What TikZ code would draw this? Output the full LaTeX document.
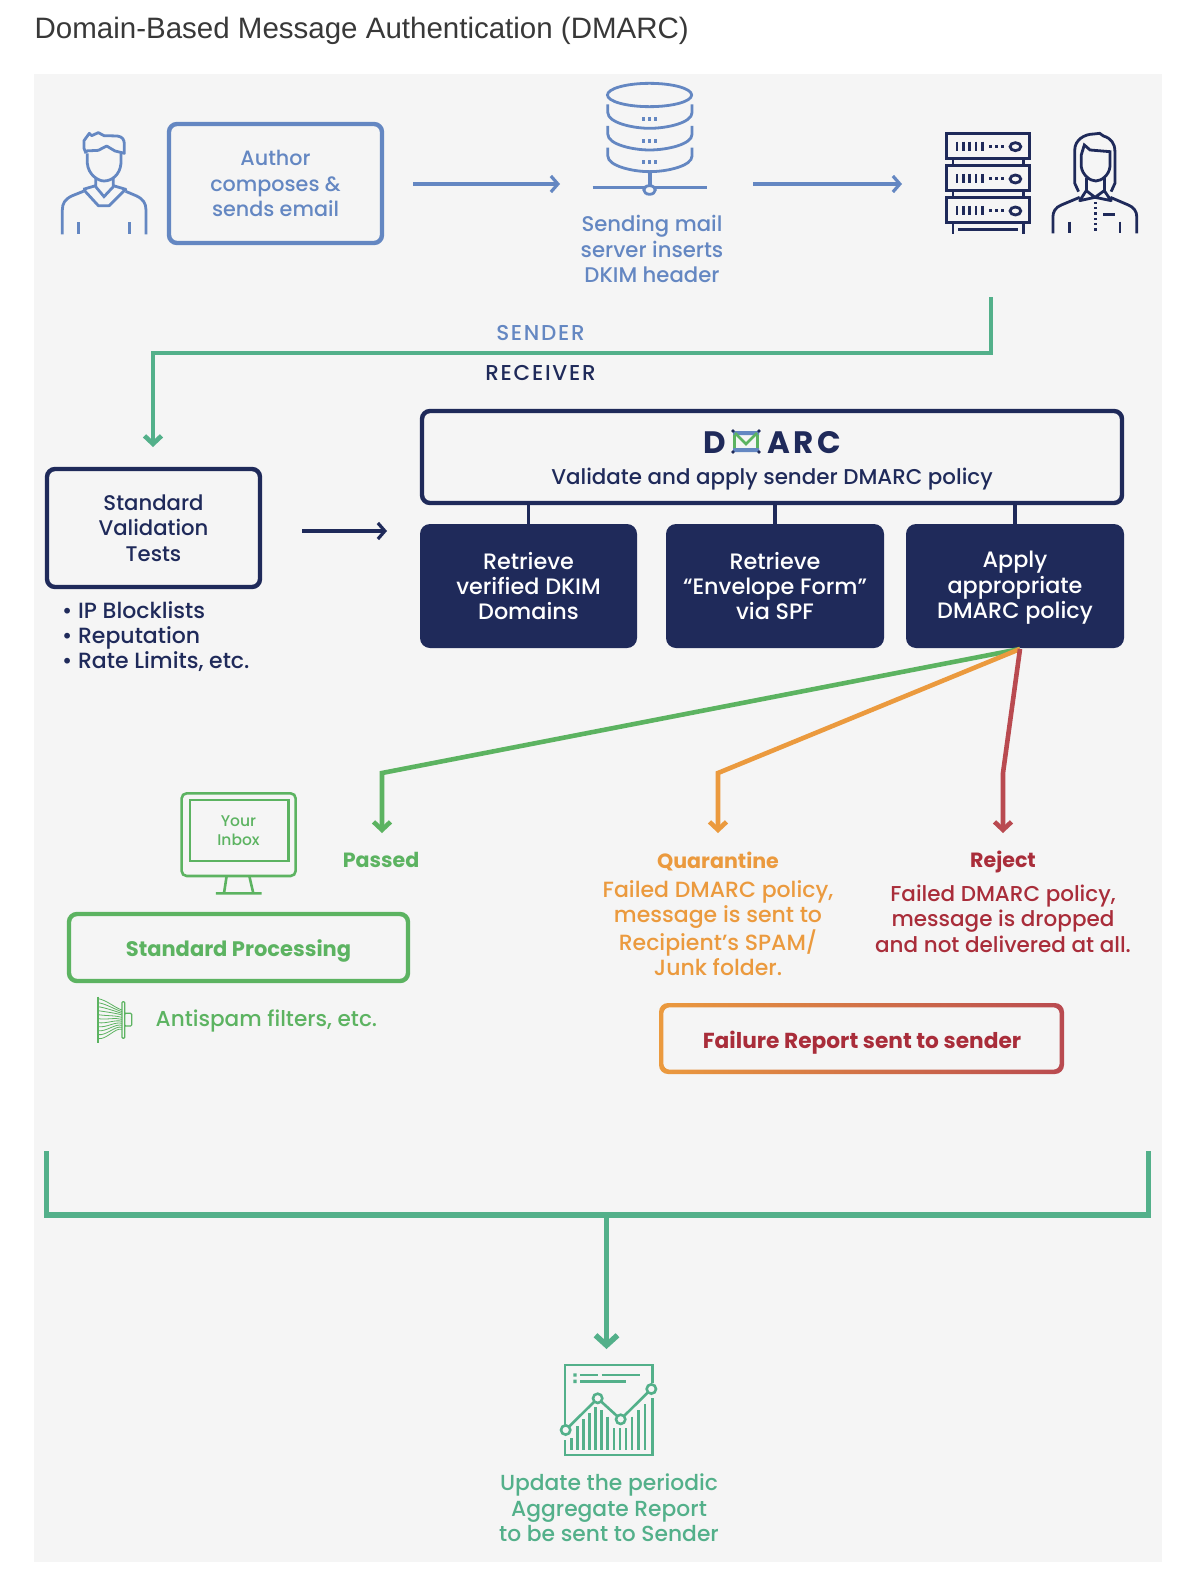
\documentclass[tikz,border=0pt]{standalone}
\usepackage{fontspec}
\setmainfont{Poppins Medium}[BoldFont=Poppins Bold]
\newfontfamily\titlefont{Liberation Sans}
\usepackage{tikz}
\usetikzlibrary{positioning,arrows.meta,calc,backgrounds}
\definecolor{blu}{HTML}{6487C2}
\definecolor{nav}{HTML}{1F2A5A}
\definecolor{grn}{HTML}{5CB361}
\definecolor{tea}{HTML}{53B08A}
\definecolor{org}{HTML}{EB9A3E}
\definecolor{rdl}{HTML}{B94A50}
\definecolor{rdt}{HTML}{A92D3A}
\definecolor{bgd}{HTML}{F5F5F5}
\tikzset{
  txt/.style={align=center,inner sep=0pt,font=\fontsize{21.2}{25.4}\selectfont},
  tsz/.style={font=\fontsize{#1}{25.4}\selectfont},
  boldt/.style={align=center,inner sep=0pt,font=\fontsize{20.6}{25.4}\selectfont\bfseries},
  capt/.style={align=center,inner sep=0pt,font=\fontsize{21.5}{25.4}\selectfont\addfontfeatures{LetterSpace=8}},
  wbox/.style={draw,line width=4.4pt,rounded corners=8pt,fill=none},
  navbox/.style={fill=nav,rounded corners=10pt,text=white},
  blln/.style={blu,line width=3.2pt,-{Straight Barb[length=7pt,width=16pt]}},
  ovln/.style={line width=4.6pt,line join=miter,-{Straight Barb[length=8pt,width=17pt]}},
  bic/.style={blu,line width=2.8pt},
  nic/.style={nav,line width=2.8pt},
  gic/.style={grn,line width=2.6pt},
  tic/.style={tea,line width=2.6pt},
}
\begin{document}
\begin{tikzpicture}[x=1pt,y=-1pt]
  \useasboundingbox (0,0) rectangle (1188,1592);
  \fill[bgd] (34,74) rectangle (1162,1562);
  \node[font=\titlefont\fontsize{29.5}{32}\selectfont,text=black!78,anchor=west,inner sep=0pt] (title) at (34.5,30.5) {Domain-Based Message Authentication (DMARC)};

  % ---- sender row ----
  \node[txt,tsz=20.7,wbox,blu,minimum width=213pt,minimum height=119pt] (author) at (275.5,183.5) {Author\\composes \&\\sends email};
  \begin{scope}[shift={(30,70)},x=0.3333pt,y=-0.3333pt]  % author icon
    \draw[bic,line join=round] (168,250)--(162,235)--(162,212)--(178,190)--(185,197)--(205,188)--(222,197)--(262,198)
      .. controls (278,200) and (283,210) .. (283,222)--(283,250)--(255,243)--(230,228)--(205,241)--(165,243);
    \draw[bic] (172,250)--(172,280) .. controls (175,315) and (205,333) .. (222,333) .. controls (245,333) and (270,315) .. (273,280)--(273,250);
    \draw[bic] (197,322)--(197,350)--(222,380)--(250,350)--(250,322);
    \draw[bic,line join=round] (160,358)--(205,407)--(238,407)--(287,358)--(250,347);
    \draw[bic] (160,358)--(197,347);
    \draw[bic] (160,364)--(125,378) .. controls (105,388) and (97,400) .. (97,420)--(97,493);
    \draw[bic] (287,364)--(320,378) .. controls (340,388) and (348,400) .. (348,420)--(348,493);
    \draw[bic] (145,457)--(145,493) (299,457)--(299,493);
  \end{scope}
  \begin{scope}[shift={(560,70)},x=0.3827pt,y=-0.3333pt]  % mail server
    \draw[bic] (234,75) ellipse [x radius=110,y radius=35];
    \foreach \yy in {103,168,233}{
      \draw[bic] (125,\yy)--(125,\yy+25) .. controls (125,\yy+55) and (190,\yy+72) .. (234,\yy+72) .. controls (280,\yy+72) and (345,\yy+55) .. (345,\yy+25)--(345,\yy);
      \foreach \xx in {218,234,250}{\fill[blu] (\xx-4,\yy+38) rectangle (\xx+4,\yy+50);}
    }
    \draw[blu,line width=4pt] (234,305)--(234,345);
    \draw[bic] (85,353)--(385,353);
    \draw[bic,fill=bgd] (234,360) ellipse [x radius=15,y radius=13];
    % receiving server
    \foreach \yy in {190,287,383}{
      \draw[nav,line width=3pt] (1010,\yy) rectangle (1228,\yy+75);
      \foreach \xx in {1037,1054,1070,1087,1104}{\draw[nav,line width=2.6pt] (\xx,\yy+25)--(\xx,\yy+52);}
      \foreach \xx in {1124,1140,1156}{\fill[nav] (\xx-4,\yy+35) rectangle (\xx+4,\yy+43);}
      \draw[nic] (1190,\yy+40) ellipse [x radius=14,y radius=12];
    }
    \draw[nic] (1027,265)--(1027,287) (1211,265)--(1211,287) (1027,362)--(1027,383) (1211,362)--(1211,383);
    \draw[nic] (1027,458)--(1027,492) (1211,458)--(1211,492) (1040,479)--(1198,479);
    % receiver icon
    \draw[nic] (1355,365)--(1345,340)--(1345,240) .. controls (1345,210) and (1370,192) .. (1395,192)--(1410,190)--(1420,198) .. controls (1440,205) and (1450,220) .. (1450,245)--(1450,340)--(1440,365);
    \draw[nic] (1362,290)--(1362,255)--(1370,225)--(1385,240)--(1437,245)--(1437,290) .. controls (1435,315) and (1415,333) .. (1400,333) .. controls (1385,333) and (1365,315) .. (1362,290);
    \draw[nic] (1375,325)--(1375,362) (1422,325)--(1422,362);
    \draw[nic,line join=round] (1398,382)--(1375,362)--(1358,392)--(1398,382)--(1422,362)--(1440,392)--(1398,382);
    \draw[nic] (1358,382)--(1310,405) .. controls (1295,412) and (1288,425) .. (1288,440)--(1288,490);
    \draw[nic] (1438,382)--(1485,405) .. controls (1500,412) and (1507,425) .. (1507,440)--(1507,490);
    \draw[nic] (1332,455)--(1332,490) (1463,455)--(1463,490) (1420,433)--(1450,433);
    \foreach \yy in {395,411,427,443,459,475}{\fill[nav] (1394,\yy) rectangle (1402,\yy+7);}
  \end{scope}
  \node[txt,text=blu] (sendsrv) at (652,249) {Sending mail\\server inserts\\DKIM header};
  \coordinate (a1) at (413,184);
  \coordinate (a2) at (560,184);
  \coordinate (a3) at (753,184);
  \coordinate (a4) at (902,184);
  \draw[blln] (a1)--(a2);
  \draw[blln] (a3)--(a4);

  % ---- sender / receiver split ----
  \coordinate (sp1) at (991,297);
  \coordinate (sp2) at (153,447);
  \draw[tea,ovln] (sp1)--(991,353)--(153,353)--(sp2);
  \node[capt,text=blu] (sender) at (540.5,333) {SENDER};
  \node[capt,text=nav] (receiver) at (540.5,373) {RECEIVER};

  % ---- validation ----
  \node[txt,wbox,nav,minimum width=213pt,minimum height=118pt] (tests) at (153.5,528) {Standard\\Validation\\Tests};
  \node[txt,tsz=22,text=nav,align=left,anchor=north west] (bullets) at (62,601) {• IP Blocklists\\• Reputation\\• Rate Limits, etc.};
  \coordinate (a5) at (302,531);
  \coordinate (a6) at (387,531);
  \draw[nav,line width=3.2pt,-{Straight Barb[length=7pt,width=16pt]}] (a5)--(a6);

  % ---- dmarc block ----
  \node[wbox,nav,minimum width=700pt,minimum height=92pt] (dmarc) at (772,457) {};
  \node[txt,text=nav,font=\fontsize{31}{34}\bfseries\selectfont,anchor=center] (dmD) at (715,442.5) {D};
  \node[txt,text=nav,font=\fontsize{31}{34}\bfseries\selectfont\addfontfeatures{LetterSpace=11},anchor=center] (dmARC) at (804,442.5) {ARC};
  \fill[blu] (733,431) rectangle (759,435) (733,448) rectangle (759,452);
  \draw[grn,line width=2.8pt] (734.5,435)--(734.5,448) (757.5,435)--(757.5,448) (735,433)--(746,444)--(757,433);
  \foreach \xx/\yy in {733/431,759/431,733/452,759/452}{\fill[nav] (\xx,\yy) circle (1.8);}
  \node[txt,tsz=21.4,text=nav] (dmsub) at (772,479) {Validate and apply sender DMARC policy};
  \node[txt,tsz=22.3,navbox,minimum width=217pt,minimum height=124pt] (dkim) at (528.5,586) {Retrieve\\verified DKIM\\Domains};
  \node[txt,tsz=22.3,navbox,minimum width=218pt,minimum height=124pt] (spf) at (775,586) {Retrieve\\“Envelope Form”\\via SPF};
  \node[navbox,minimum width=218pt,minimum height=124pt] (apply) at (1015,586) {};
  \node[txt,tsz=22.3,text=white] (applytx) at (1015,588) {Apply\\appropriate\\DMARC policy};
  \foreach \bx/\xx in {dkim/528.5,spf/775,apply/1015}{
    \draw[nav,line width=3.6pt] (\bx.north)--(\xx,505);
  }

  % ---- outcomes ----
  \coordinate (out) at (1020,649);
  \coordinate (pin) at (382,833);
  \coordinate (qin) at (718,833);
  \coordinate (rin) at (1003,833);
  \draw[ovln,grn] (out)--(382,773)--(pin);
  \draw[ovln,org] (out)--(718,773)--(qin);
  \draw[ovln,rdl] (out)--(1003,773)--(rin);
  \node[boldt,text=grn] (passed) at (381,860) {Passed};
  \node[boldt,text=org] (quar) at (718,861) {Quarantine};
  \node[boldt,text=rdt] (rej) at (1003,862) {Reject};
  \node[txt,tsz=22,text=org] (quartx) at (718,928) {Failed DMARC policy,\\message is sent to\\Recipient's SPAM/\\Junk folder.};
  \node[txt,tsz=21.5,text=rdt] (rejtx) at (1003,918.5) {Failed DMARC policy,\\message is dropped\\and not delivered at all.};
  \shade[even odd rule,left color=org,right color=rdl,rounded corners=9pt] (659,1003) rectangle (1064,1074) [rounded corners=6pt] (663.4,1007.4) rectangle (1059.6,1069.6);
  \node[boldt,text=rdt,font=\fontsize{21.7}{25.4}\selectfont\bfseries] (flrep) at (862,1043) {Failure Report sent to sender};

  % ---- inbox ----
  \begin{scope}[shift={(60,780)},x=0.3333pt,y=-0.3333pt]
    \draw[gic,rounded corners=5pt] (365,40) rectangle (707,288);
    \draw[gic] (390,60) rectangle (685,243);
    \draw[gic] (500,288)--(492,340) (568,288)--(580,340) (468,340)--(605,340);
    \draw[gic,line width=1.2pt] (114,650)--(114,788);
    \draw[gic,line width=1.2pt,rounded corners=1pt] (186,665) rectangle (194,775) (194,700) rectangle (215,738);
    \foreach \ya/\yb in {656/690,668/695,680/700,692/705,704/712,716/718,728/724,740/730,752/736,764/742,776/748}{
      \draw[grn,line width=0.8pt] (114,\ya) .. controls (140,\ya+4) and (165,\yb-6) .. (186,\yb);
    }
  \end{scope}
  \node[txt,text=grn,font=\fontsize{15.5}{19}\selectfont] (inbox) at (238.5,830.5) {Your\\Inbox};
  \node[wbox,grn,minimum width=339pt,minimum height=67pt] (stdp) at (238.5,947.5) {};
  \node[boldt,text=grn,font=\fontsize{21}{25.4}\selectfont\bfseries] (stdptx) at (238.5,951) {Standard Processing};
  \node[txt,tsz=21.6,text=grn,anchor=west] (anti) at (155.5,1020.5) {Antispam filters, etc.};

  % ---- aggregate report ----
  \coordinate (brl) at (46.5,1151);
  \coordinate (brr) at (1148.5,1151);
  \coordinate (brc) at (606.5,1215);
  \coordinate (rpt) at (606.5,1349);
  \draw[tea,line width=5.6pt] (brl)--(46.5,1215)--(1148.5,1215)--(brr);
  \draw[tea,line width=5.6pt,-{Straight Barb[length=10pt,width=22pt]}] (brc)--(rpt);
  \begin{scope}[shift={(530,1340)},x=0.3333pt,y=-0.3333pt]
    \draw[tic] (105,255)--(105,75)--(367,75)--(367,130) (367,175)--(367,345)--(105,345)--(105,300);
    \draw[tic] (150,105)--(203,105) (215,105)--(330,105) (150,124)--(287,124);
    \fill[tea] (130,100) rectangle (140,110) (130,119) rectangle (140,129);
    \foreach \xx/\yy in {125/295,143/258,161/238,179/220,197/202,215/210,233/230,252/265,270/265,288/265,306/230,325/210,345/192}{
      \draw[tea,line width=2.4pt] (\xx,\yy)--(\xx,330);
    }
    \draw[tic] (107,270)--(203,175)--(272,238)--(364,147);
    \foreach \xx/\yy in {107/270,203/175,272/238,364/147}{\draw[tic,fill=bgd] (\xx,\yy) circle [radius=14];}
  \end{scope}
  \node[txt,tsz=21.8,text=tea] (agg) at (609,1508) {Update the periodic\\Aggregate Report\\to be sent to Sender};
\end{tikzpicture}
\end{document}
